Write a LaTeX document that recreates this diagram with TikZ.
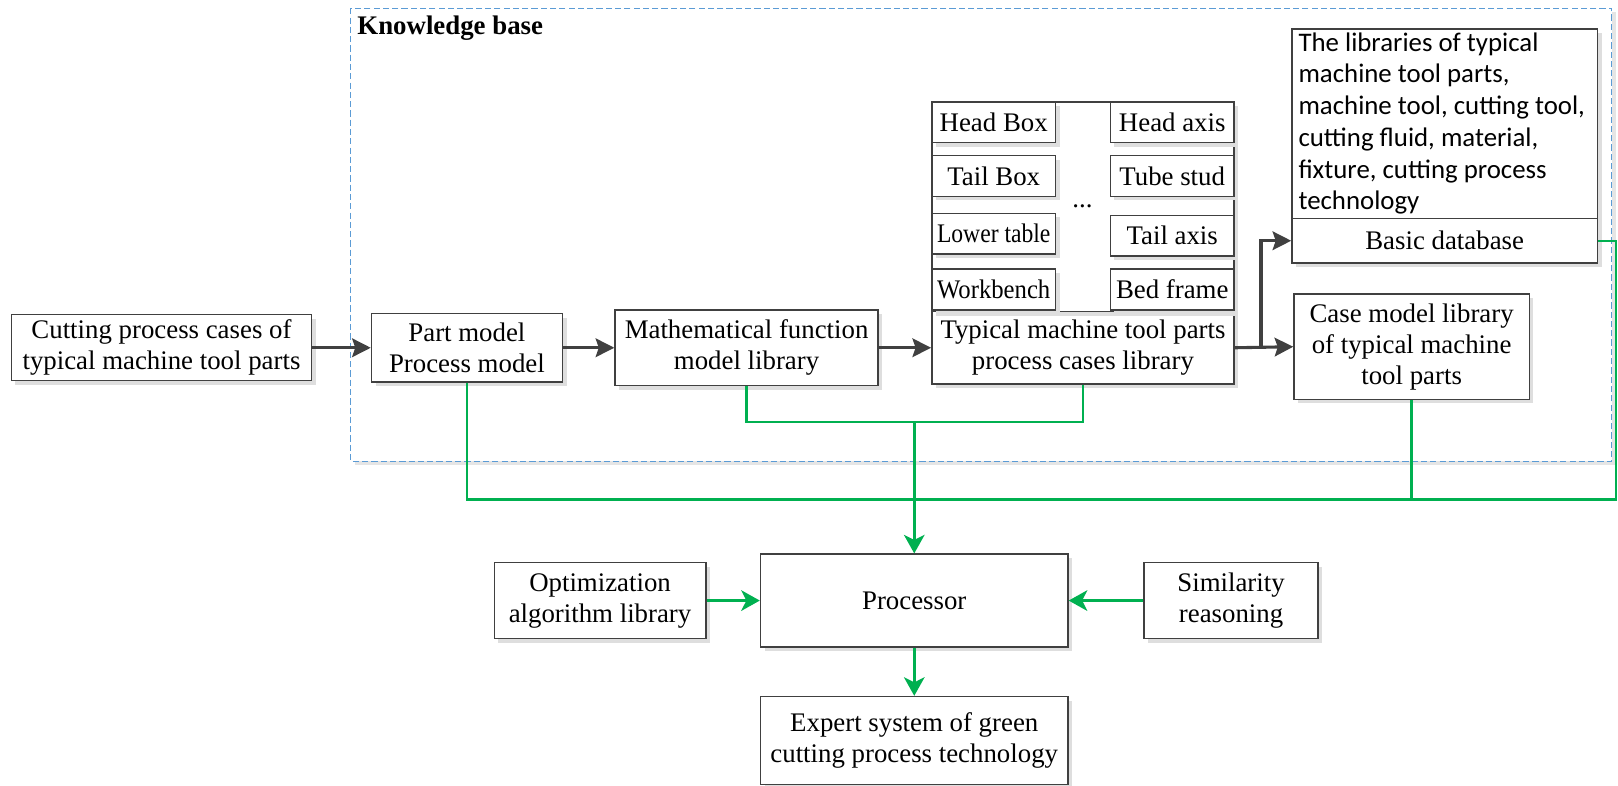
\documentclass[tikz,border=0pt]{standalone}
\usepackage{fontspec}
\usepackage{graphicx}
\setmainfont{Liberation Serif}[BoldFont={Liberation Serif Bold}]
\newfontfamily\libfont{Carlito}
\usetikzlibrary{arrows.meta,shadows}
\definecolor{boxgray}{RGB}{64,64,64}
\definecolor{flowgray}{RGB}{64,64,64}
\definecolor{feedgreen}{RGB}{0,176,80}
\definecolor{kbblue}{RGB}{91,155,213}
\def \txt{\fontsize{13}{15}\selectfont}
\def \squeeze#1#2{\scalebox{#1}[1]{#2}}
\tikzset{
  box/.style={draw=boxgray, line width=.7pt, fill=white, align=center, inner sep=0pt,
    font=\txt, drop shadow={shadow xshift=2pt, shadow yshift=-2pt, fill=black!13, opacity=1}},
  flow/.style={draw=flowgray, line width=1.5pt, -{Stealth[length=9pt,width=9pt,inset=1.5pt]}},
  feed/.style={draw=feedgreen, line width=1.2pt},
  feedarrow/.style={feed, -{Stealth[length=9pt,width=10pt,inset=2.5pt]}},
  kbase/.style={draw=kbblue, line width=.6pt, dash pattern=on 3pt off 1.5pt}
}

\begin{document}
\begin{tikzpicture}[x=0.5pt,y=-0.5pt]
  \useasboundingbox (0,0) rectangle (1568,761);

  % knowledge base frame
  \draw[kbase, drop shadow={shadow xshift=2pt, shadow yshift=-2pt, fill=black!10, opacity=1}, fill=white] (340,8) rectangle (1562,447);
  \node[anchor=north west, inner sep=0pt, font=\rmfamily\bfseries\txt] (kb) at (346,15) {Knowledge base};

  % main row
  \node[box, minimum width=145.5pt, minimum height=32pt] (cases) at (156.5,337) {Cutting process cases of\\typical machine tool parts};
  \node[box, minimum width=92.5pt, minimum height=33pt] (part) at (452.5,337) {Part model\\Process model};
  \node[box, minimum width=127.5pt, minimum height=36.5pt] (math) at (723.5,337) {Mathematical function\\model library};
  \node[box, minimum width=146.5pt, minimum height=35pt] (typical) at (1049.5,337) {Typical machine tool parts\\process cases library};

  % typical parts
  \draw[draw=boxgray, line width=.7pt, fill=white, drop shadow={shadow xshift=2pt, shadow yshift=-2pt, fill=black!13, opacity=1}] (903,99) rectangle (1196,302);
  \node[box, minimum width=60pt, minimum height=19.75pt] (headbox) at (963,118.5) {Head Box};
  \node[box, minimum width=60pt, minimum height=19.75pt] (tailbox) at (963,170.5) {Tail Box};
  \node[box, minimum width=60pt, minimum height=19.75pt] (lower) at (963,226.5) {\squeeze{.88}{Lower table}};
  \node[box, minimum width=60pt, minimum height=19.75pt] (workbench) at (963,280.5) {\squeeze{.92}{Workbench}};
  \node[box, minimum width=60pt, minimum height=19.75pt] (headaxis) at (1136,118.5) {Head axis};
  \node[box, minimum width=60pt, minimum height=19.75pt] (tubestud) at (1136,170.5) {Tube stud};
  \node[box, minimum width=60pt, minimum height=19.75pt] (tailaxis) at (1136,228.5) {Tail axis};
  \node[box, minimum width=60pt, minimum height=19.75pt] (bedframe) at (1136,280.5) {Bed frame};
  \node[font=\txt, inner sep=0pt] (dots) at (1049,200) {...};

  % libraries
  \draw[draw=boxgray, line width=.7pt, fill=white, drop shadow={shadow xshift=2pt, shadow yshift=-2pt, fill=black!13, opacity=1}] (1252,28) rectangle (1548,255);
  \node[anchor=north west, inner sep=0pt, align=left, font=\libfont\fontsize{13}{15.4}\selectfont] (libs) at (1258,31)
    {The libraries of typical\\machine tool parts,\\machine tool, cutting tool,\\cutting fluid, material,\\fixture, cutting process\\technology};
  \node[box, minimum width=148pt, minimum height=21.7pt] (basic) at (1400,233.3) {Basic database};
  \node[box, minimum width=114pt, minimum height=51pt] (casemodel) at (1368,336) {Case model library\\of typical machine\\tool parts};

  % lower part
  \node[box, minimum width=149pt, minimum height=45pt] (processor) at (886,582) {Processor};
  \node[box, minimum width=102.5pt, minimum height=37pt] (optim) at (581.5,582) {Optimization\\algorithm library};
  \node[box, minimum width=84.2pt, minimum height=37pt] (simil) at (1193,582) {Similarity\\reasoning};
  \node[box, minimum width=149pt, minimum height=42.5pt] (expert) at (886,717.5) {Expert system of green\\cutting process technology};

  \coordinate (split) at (1222,337);
  \coordinate (mid) at (0,409);
  \coordinate (bus) at (0,484);
  \coordinate (edge) at (1566,0);

  % dark arrows
  \draw[flow] (cases.east) -- (part.west);
  \draw[flow] (part.east) -- (math.west);
  \draw[flow] (math.east) -- (typical.west);
  \draw[flow] (typical.east) -- (casemodel.west);
  \draw[flow] (split) |- (basic.west);

  % green lines
  \draw[feed] (part.south) |- (edge |- bus) |- (basic.east);
  \draw[feed] (casemodel.south) -- (casemodel.south |- bus);
  \draw[feed] (math.south) |- (typical.south |- mid) -- (typical.south);
  \draw[feedarrow] (processor.north |- mid) -- (processor.north);
  \draw[feedarrow] (optim) -- (processor);
  \draw[feedarrow] (simil) -- (processor);
  \draw[feedarrow] (processor) -- (expert);

\end{tikzpicture}
\end{document}
